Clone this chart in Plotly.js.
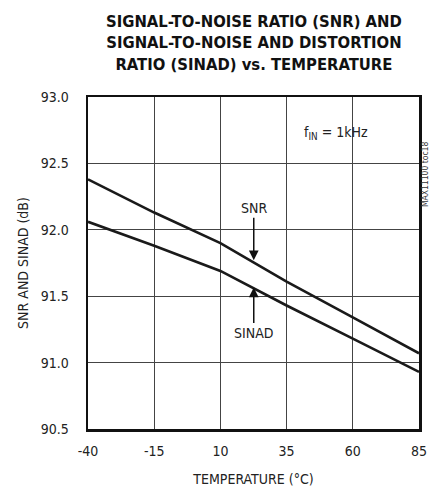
<!DOCTYPE html>
<html>
<head>
<meta charset="utf-8">
<script src="https://cdn.plot.ly/plotly-3.0.1.min.js"></script>
<style>html,body{margin:0;padding:0;background:#fff;}#chart{width:436px;height:491px;}</style>
</head>
<body>
<div id="chart"></div>
<script>
const temperature = [-40, -15, 10, 35, 60, 85];
const snr = [92.38, 92.13, 91.90, 91.61, 91.34, 91.07];
const sinad = [92.06, 91.88, 91.69, 91.43, 91.18, 90.93];
const xTicks = [-40, -15, 10, 35, 60, 85];
const yTicks = [90.5, 91.0, 91.5, 92.0, 92.5, 93.0];
const yTickLabels = ['90.5', '91.0', '91.5', '92.0', '92.5', '93.0'];

const narrow = 'DejaVu Sans Condensed, Liberation Sans, sans-serif';
const lineStyle = {color: '#1a1a1a', width: 2.6};

const traces = [
  {x: temperature, y: snr, name: 'SNR', mode: 'lines', line: lineStyle, hoverinfo: 'skip'},
  {x: temperature, y: sinad, name: 'SINAD', mode: 'lines', line: lineStyle, hoverinfo: 'skip'}
];

const layout = {
  width: 436, height: 491,
  margin: {l: 88, r: 17, t: 97, b: 62},
  paper_bgcolor: '#fff', plot_bgcolor: '#fff',
  showlegend: false,
  font: {family: narrow, color: '#222', size: 14},
  xaxis: {
    range: [-40, 85], tickvals: xTicks, ticktext: xTicks.map(String),
    showgrid: true, gridcolor: '#444', gridwidth: 1,
    zeroline: false, showline: true, linecolor: '#111', linewidth: 2.5, mirror: true,
    ticks: '', ticklabelstandoff: 8,
    tickfont: {family: narrow, size: 14, color: '#222'},
    title: {text: 'TEMPERATURE (°C)', font: {family: narrow, size: 14, color: '#222'}, standoff: 16}
  },
  yaxis: {
    range: [90.5, 93], tickvals: yTicks, ticktext: yTickLabels,
    showgrid: true, gridcolor: '#444', gridwidth: 1,
    zeroline: false, showline: true, linecolor: '#111', linewidth: 2.5, mirror: true,
    ticks: '', ticklabelstandoff: 14,
    tickfont: {family: narrow, size: 14, color: '#222'},
    title: {text: 'SNR AND SINAD (dB)', font: {family: narrow, size: 14, color: '#222'}, standoff: 9}
  },
  annotations: [
    {x: 0.5, y: 1.1616, xref: 'paper', yref: 'paper', xanchor: 'center', yanchor: 'middle',
     text: '<b>SIGNAL-TO-NOISE RATIO (SNR) AND<br>SIGNAL-TO-NOISE AND DISTORTION<br>RATIO (SINAD) vs. TEMPERATURE</b>',
     showarrow: false, align: 'center',
     font: {family: narrow, size: 16.5, color: '#111'}},
    {x: 22.6, y: 91.77, xref: 'x', yref: 'y', text: 'SNR', showarrow: true,
     ax: 0, ay: -52, arrowhead: 2, arrowsize: 1.3, arrowwidth: 1.5, arrowcolor: '#111',
     font: {family: narrow, size: 14, color: '#222'}},
    {x: 22.6, y: 91.565, xref: 'x', yref: 'y', text: 'SINAD', showarrow: true,
     ax: 0, ay: 45, arrowhead: 2, arrowsize: 1.3, arrowwidth: 1.5, arrowcolor: '#111',
     font: {family: narrow, size: 14, color: '#222'}},
    {x: 0.852, y: 0.924, xref: 'paper', yref: 'paper', text: 'f<sub>IN</sub> = 1kHz', showarrow: false,
     font: {family: narrow, size: 14, color: '#222'}},
    {x: 1.039, y: 0.873, xref: 'paper', yref: 'paper', text: 'MAX11100 toc18', showarrow: false,
     textangle: -90, font: {family: narrow, size: 8.5, color: '#333'}}
  ]
};

Plotly.newPlot('chart', traces, layout, {displayModeBar: false, staticPlot: true});
</script>
</body>
</html>
